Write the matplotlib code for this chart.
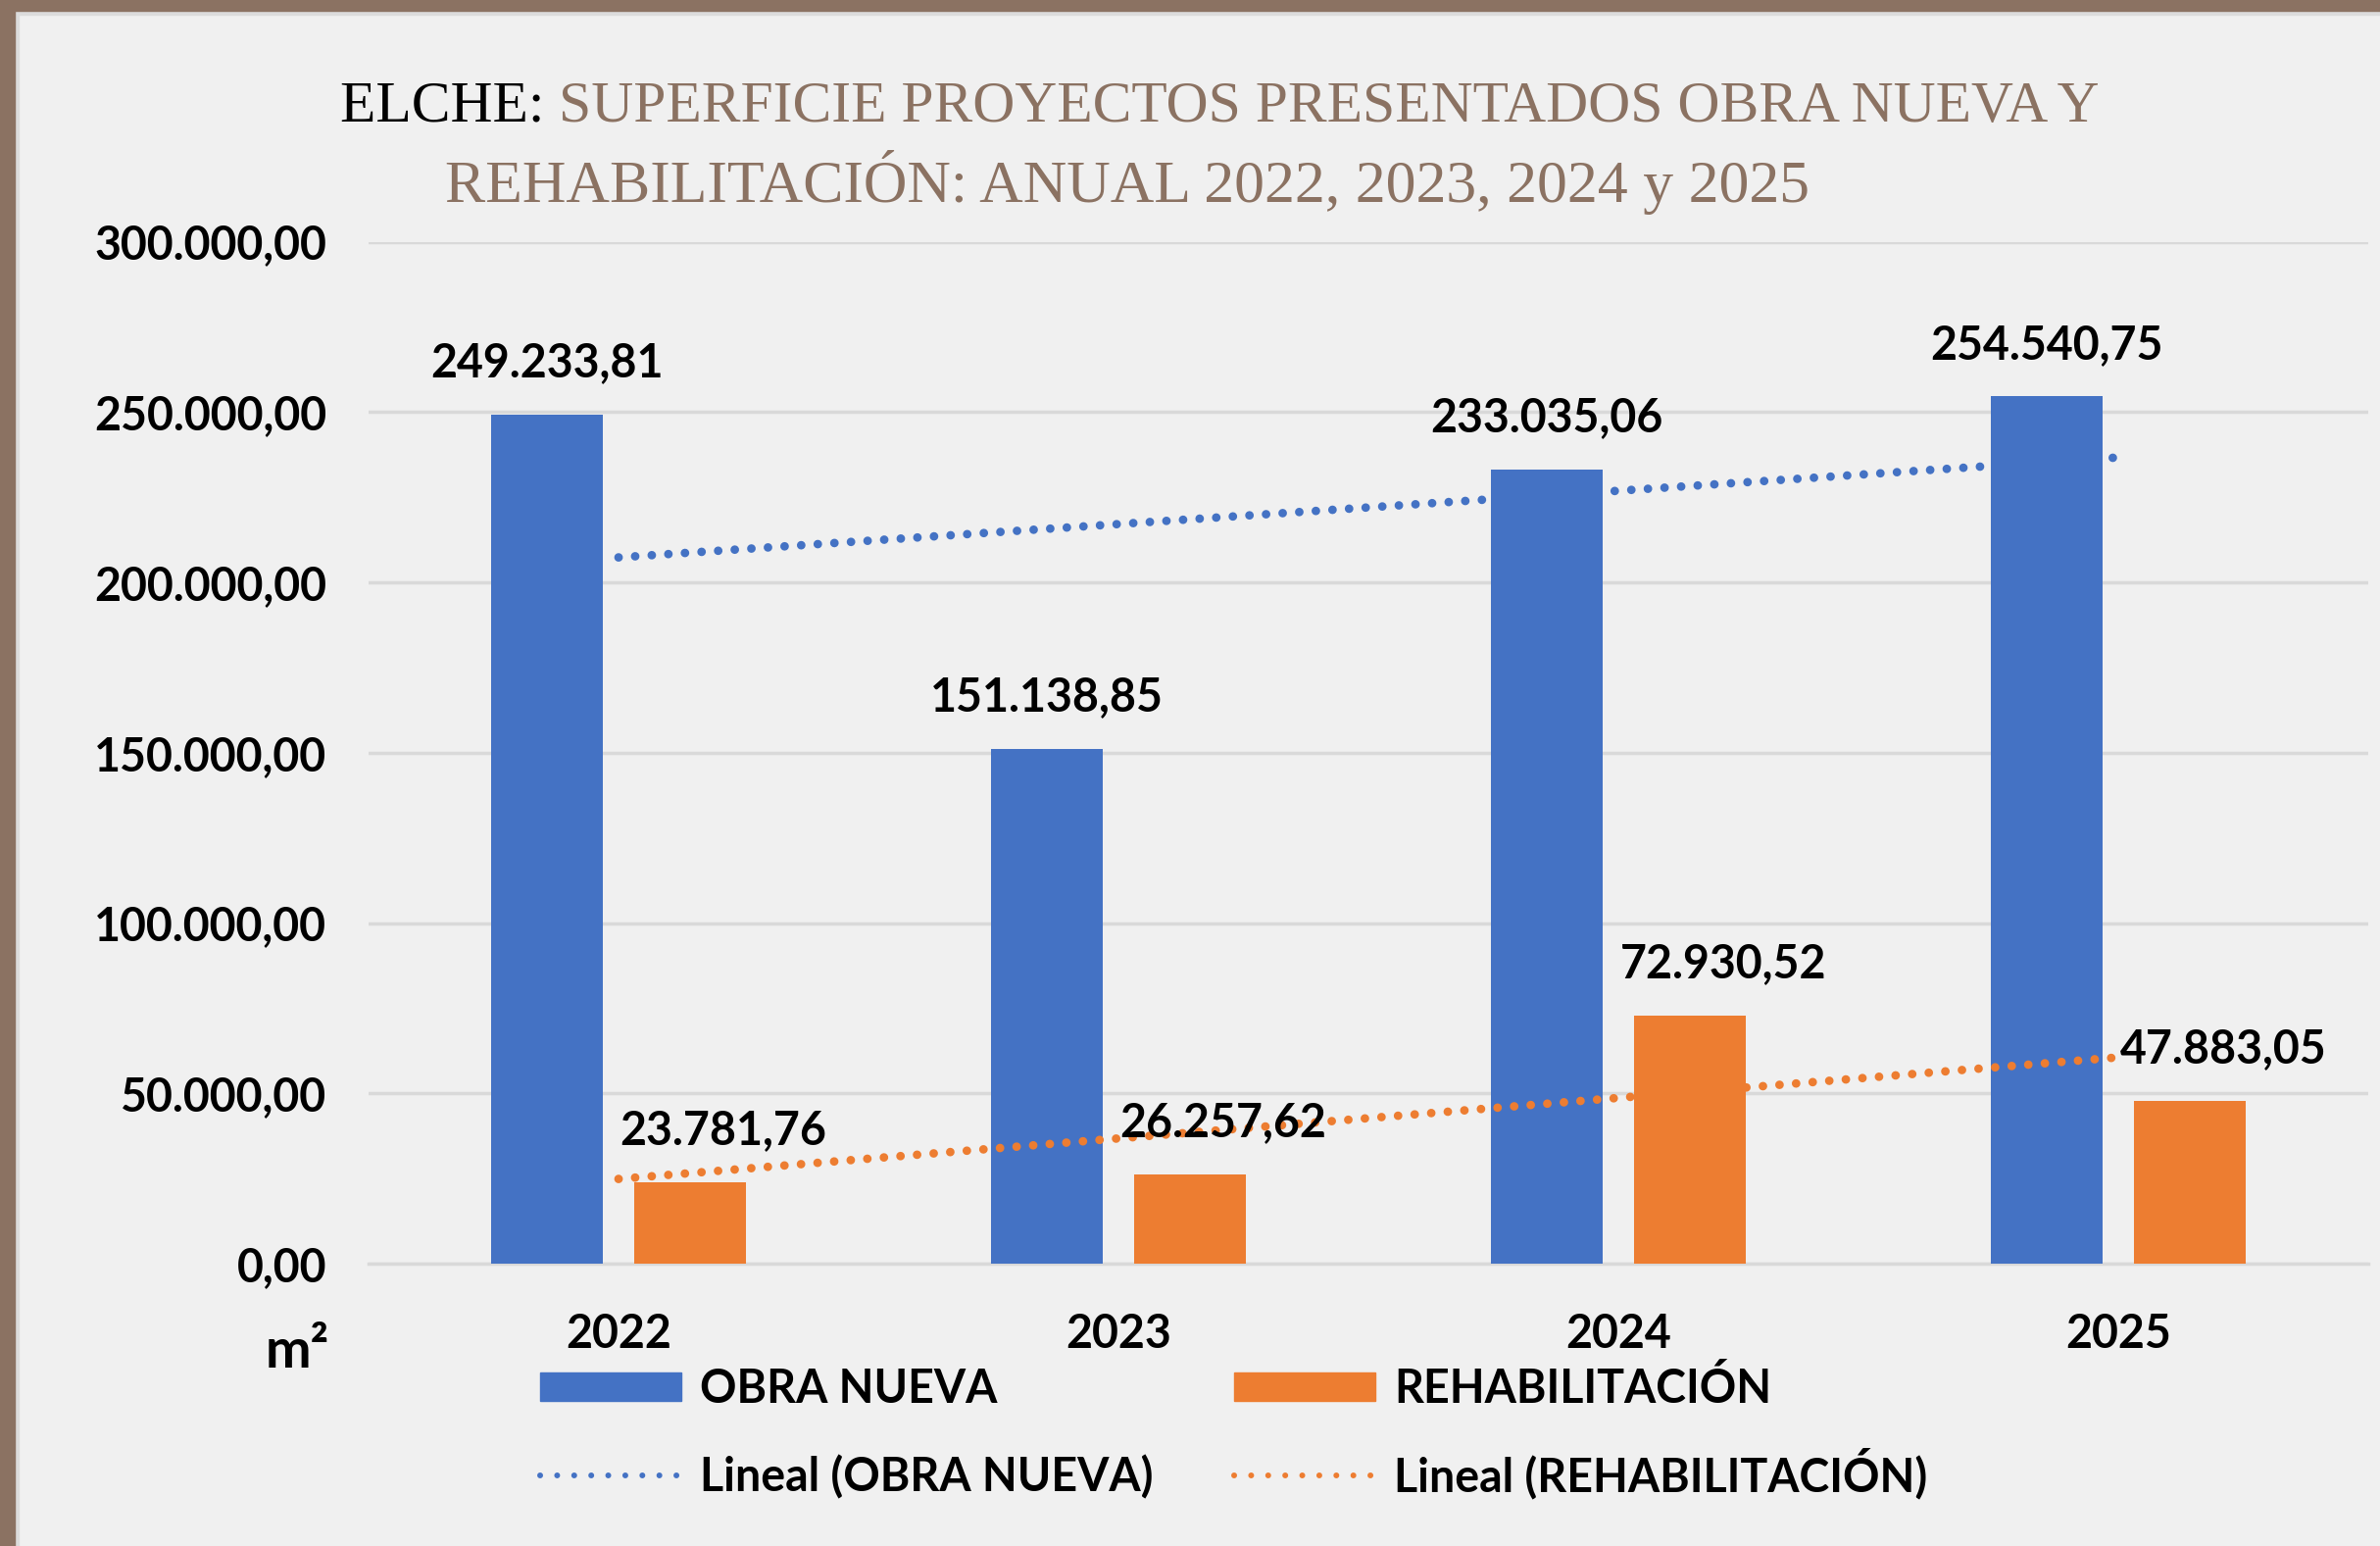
import matplotlib.pyplot as plt
import numpy as np
from matplotlib.patches import Rectangle, Patch
from matplotlib.lines import Line2D
from matplotlib.ticker import FuncFormatter

years = ['2022', '2023', '2024', '2025']
obra_nueva = [249233.81, 151138.85, 233035.06, 254540.75]
rehabilitacion = [23781.76, 26257.62, 72930.52, 47883.05]
series_names = ['OBRA NUEVA', 'REHABILITACIÓN']
yticks = [0, 50000, 100000, 150000, 200000, 250000, 300000]
title_head = 'ELCHE: '
title_line1 = 'SUPERFICIE PROYECTOS PRESENTADOS OBRA NUEVA Y'
title_line2 = 'REHABILITACIÓN: ANUAL 2022, 2023, 2024 y 2025'

BLUE = '#4472c4'
ORANGE = '#ed7d31'
BROWN = '#8b7262'
BG = '#f0f0f0'
GRID = '#d9d9d9'
FONT = 'Lato'
FS = 33.5


def es_fmt(v, pos=None):
    s = f'{v:,.2f}'
    return s.replace(',', 'X').replace('.', ',').replace('X', '.')


W, H = 2428, 1577
fig = plt.figure(figsize=(W / 100, H / 100), dpi=100, facecolor=BG)

# frame bands (top and left)
fig.patches.append(Rectangle((0, 1 - 15 / H), 1, 15 / H, transform=fig.transFigure,
                             color='#dcdcdc', zorder=0))
fig.patches.append(Rectangle((0, 0), 19 / W, 1, transform=fig.transFigure,
                             color='#dcdcdc', zorder=0))
fig.patches.append(Rectangle((0, 1 - 11 / H), 1, 11 / H, transform=fig.transFigure,
                             color=BROWN, zorder=1))
fig.patches.append(Rectangle((0, 0), 15 / W, 1, transform=fig.transFigure,
                             color=BROWN, zorder=1))

ax = fig.add_axes([376 / W, 1 - 1289 / H, (2416 - 376) / W, (1289 - 246.5) / H])
ax.set_facecolor(BG)

x = np.arange(len(years))
off = 0.143
bw = 0.222
ax.bar(x - off, obra_nueva, bw, color=BLUE, zorder=3)
ax.bar(x + off, rehabilitacion, bw, color=ORANGE, zorder=3)

# linear trendlines
dots = dict(linestyle=(0, (0.01, 1.93)), dash_capstyle='round', lw=6.3, zorder=4)
for vals, col in [(obra_nueva, BLUE), (rehabilitacion, ORANGE)]:
    k, b = np.polyfit(x, vals, 1)
    ax.plot(x, k * x + b, color=col, **dots)

# data labels
for xi, v in zip(x, obra_nueva):
    ax.annotate(es_fmt(v), (xi - off, v), xytext=(0, 38), textcoords='offset points',
                ha='center', va='center', fontsize=FS, fontweight='bold', family=FONT, zorder=5)
for xi, v in zip(x, rehabilitacion):
    ax.annotate(es_fmt(v), (xi + 0.21, v), xytext=(0, 38), textcoords='offset points',
                ha='center', va='center', fontsize=FS, fontweight='bold', family=FONT, zorder=5)

ax.set_xlim(-0.5, len(years) - 0.5)
ax.set_ylim(0, 300000)
ax.set_yticks(yticks)
ax.yaxis.set_major_formatter(FuncFormatter(es_fmt))
ax.set_xticks(x)
ax.set_xticklabels(years)
ax.tick_params(axis='y', length=0, pad=31)
ax.tick_params(axis='x', length=0, pad=36)
for lab in ax.get_xticklabels() + ax.get_yticklabels():
    lab.set_fontsize(FS)
    lab.set_fontweight('bold')
    lab.set_family(FONT)
ax.grid(axis='y', color=GRID, lw=2.5, zorder=0)
for s in ['top', 'right', 'left']:
    ax.spines[s].set_visible(False)
ax.spines['bottom'].set_color(GRID)
ax.spines['bottom'].set_linewidth(2.5)

fig.text(271 / W, 1 - 1395 / H, 'm²', ha='left', va='baseline', fontsize=40,
         fontweight='bold', family=FONT)

# legend: one entry per cell so that both columns line up
ldots = dict(linestyle=(0, (0.01, 2.9)), dash_capstyle='round', lw=4.3)
entries = [
    (Patch(color=BLUE), series_names[0], 551, 1439),
    (Patch(color=ORANGE), series_names[1], 1259, 1439),
    (Line2D([], [], color=BLUE, **ldots), 'Lineal (' + series_names[0] + ')', 551, 1529),
    (Line2D([], [], color=ORANGE, **ldots), 'Lineal (' + series_names[1] + ')', 1259, 1529),
]
for h, lab, px, py in entries:
    leg = fig.legend([h], [lab], loc='lower left', bbox_to_anchor=(px / W, 1 - py / H),
                     frameon=False, prop={'family': FONT, 'weight': 'bold', 'size': FS},
                     handlelength=3.1, handleheight=0.6, handletextpad=0.4,
                     borderpad=0, borderaxespad=0)

# title
tfont = dict(family='Liberation Serif', va='baseline')
t0 = fig.text(347 / W, 1 - 124 / H, title_head, color='black', fontsize=42.8, **tfont)
fig.canvas.draw()
bb = t0.get_window_extent()
fig.text(bb.x1 / W, 1 - 124 / H, title_line1, color=BROWN, fontsize=42.8, **tfont)
fig.text(454 / W, 1 - 206 / H, title_line2, color=BROWN, fontsize=44.5, **tfont)

fig.savefig('out.png', dpi=100, facecolor=BG)
